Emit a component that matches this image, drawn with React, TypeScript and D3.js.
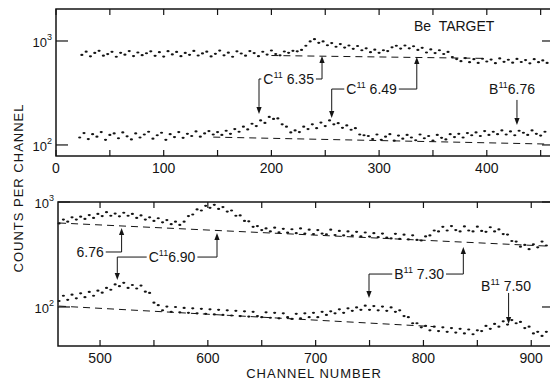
import React from "react";
import * as d3 from "d3";

// ---------------- DATA ----------------
const STEP = 4;

// Top panel (channels 0–460), upper spectrum
const topUpperStart = 24;
const topUpperCounts = [
  735, 790, 712, 768, 805, 722, 748, 786, 705, 770, 738, 800, 716, 775, 730, 762, 795, 720, 780, 708,
  798, 742, 785, 715, 768, 736, 802, 725, 760, 790, 710, 752, 808, 728, 772, 705, 795, 758, 722, 800,
  765, 715, 788, 740, 810, 750, 728, 792, 770, 805, 795,
  820, 900, 990, 1040, 960, 990, 910, 955, 880, 935, 865, 905, 840, 895, 815, 850, 780, 825, 770, 815,
  800, 870, 900, 845, 905, 850, 890, 820, 860, 775, 830, 765, 815, 750, 785, 700, 670,
  640, 685, 625, 668, 615, 675, 635, 662, 612, 680, 630, 660, 618, 672, 628, 655, 610, 668, 625, 650, 615,
];

// Top panel, lower spectrum
const topLowerStart = 22;
const topLowerCounts = [
  118, 130, 114, 127, 120, 133, 112, 125, 129, 116, 132, 121, 113, 129, 118, 126, 134, 115, 124, 131,
  112, 127, 119, 133, 117, 128, 122, 135, 120, 129, 136, 126, 133,
  125, 137, 128, 142, 134, 150, 141, 160, 152, 172, 163, 186, 178, 180, 158, 150, 132, 138, 133, 150,
  142, 158, 145, 164, 152, 172, 158, 162, 146, 154, 140, 145, 126, 124,
  122, 114, 126, 112, 120, 127, 110, 123, 115, 125, 118, 111, 126, 116, 122, 110, 125, 117, 113, 127,
  119, 128, 118, 130, 124, 132, 122, 136, 125, 134, 127, 138, 126, 135, 124, 137, 131, 125, 138, 128,
  123, 134,
];

// Bottom panel (channels 460–920), upper spectrum
const botUpperStart = 462;
const botUpperCounts = [
  625, 680, 650, 715, 680, 725, 690, 750, 705, 770, 735, 800, 740, 775, 730, 790, 740, 770, 705, 745,
  680, 715, 660, 700, 640, 672, 615, 650, 605,
  650, 735, 760, 850, 830, 920, 880, 940, 860, 895, 810, 830, 740, 745, 660, 655, 580, 590, 540,
  560, 525, 570, 515, 555, 510, 550, 505, 560, 500, 545, 495, 540, 500, 492, 545, 485, 530, 480, 525,
  478, 520, 470, 512, 468, 505, 462, 500, 458, 450, 498, 445, 488, 440, 482, 435, 430, 470,
  480, 535, 525, 580, 535, 590, 540, 525, 585, 535, 525, 582, 530, 520, 575, 525, 548, 495, 490, 425,
  420, 375, 390, 355, 395, 370, 420, 385,
];

// Bottom panel, lower spectrum
const botLowerStart = 462;
const botLowerCounts = [
  114, 128, 117, 131, 121, 135, 124, 139, 128, 143, 137, 152, 146, 164, 158, 170, 152, 162, 150, 160,
  140, 136, 110, 104,
  93, 101, 90, 100, 89, 98, 88, 97, 87, 96, 86, 95, 85, 94, 84, 93, 83, 92, 82, 91,
  81, 90, 82, 80, 89, 79, 88, 78, 87, 80, 77, 86, 78, 87, 80, 88, 80,
  90, 84, 91, 87, 95, 88, 97, 92, 99, 94, 103, 94, 102, 93, 101, 92, 99, 90, 93, 82, 80, 70, 70, 64, 66,
  60, 65, 59, 64, 58, 63, 57, 62, 56, 61, 55, 60, 59, 66, 62, 69, 65, 73, 68, 75, 70, 72, 63, 65,
  56, 58, 53, 58,
];

// Dashed background lines [channel, counts]
const topUpperBaseline: [number, number][] = [[200, 725], [400, 680]];
const topLowerBaseline: [number, number][] = [[146, 119], [456, 102]];
const botUpperBaseline: [number, number][] = [[462, 631], [915, 380]];
const botLowerBaseline: [number, number][] = [[462, 102], [810, 65]];

// Axis ticks
const topTickLabels = [0, 100, 200, 300, 400];
const topMinorTicks = [50, 150, 250, 350, 450];
const botTickLabels = [500, 600, 700, 800, 900];
const botMinorTicks = [550, 650, 750, 850];
const yDecades = [100, 1000];

// Annotations (channel / counts)
type Bracket = {
  pre: string; sup: string; post: string;
  textAt: number; row: number;
  left?: number; leftTo?: number;
  right: number; rightTo: number;
};
const topBrackets: Bracket[] = [
  { pre: "C", sup: "11", post: " 6.35", textAt: 216, row: 431, left: 188.5, leftTo: 199, right: 247, rightTo: 717 },
  { pre: "C", sup: "11", post: " 6.49", textAt: 293, row: 345, left: 256, leftTo: 182, right: 335, rightTo: 701 },
];
const botBrackets: Bracket[] = [
  { pre: "", sup: "", post: "6.76", textAt: 490.8, row: 334, right: 520, rightTo: 565 },
  { pre: "C", sup: "11", post: "6.90", textAt: 566.8, row: 299, left: 516, leftTo: 181, right: 608.5, rightTo: 507 },
  { pre: "B", sup: "11", post: " 7.30", textAt: 796, row: 206, left: 749.5, leftTo: 122, right: 837, rightTo: 373 },
];
type Pointer = { pre: string; sup: string; post: string; textAt: number; row: number; at: number; from: number; to: number };
const topPointers: Pointer[] = [{ pre: "B", sup: "11", post: "6.76", textAt: 423.4, row: 345, at: 428, from: 271, to: 156 }];
const botPointers: Pointer[] = [{ pre: "B", sup: "11", post: " 7.50", textAt: 876.6, row: 158, at: 879, from: 136, to: 69 }];

// ---------------- LAYOUT ----------------
const FONT = "'Liberation Sans', Arial, Helvetica, sans-serif";
const INK = "#141414";
const FRAME_RIGHT = 554;

const topPanel = {
  x: d3.scaleLinear().domain([0, 470]).range([56, 56 + 470 * 1.077]),
  y: d3.scaleLog().domain([78.3, 2031]).range([156, 9]),
  left: 56, top: 9, bottom: 156,
  labels: topTickLabels, minor: topMinorTicks,
  series: [
    { start: topUpperStart, counts: topUpperCounts },
    { start: topLowerStart, counts: topLowerCounts },
  ],
  baselines: [topUpperBaseline, topLowerBaseline],
  brackets: topBrackets, pointers: topPointers,
};
const botPanel = {
  x: d3.scaleLinear().domain([461, 925]).range([58, 58 + 464 * 1.078]),
  y: d3.scaleLog().domain([42.5, 1000]).range([346, 202]),
  left: 58, top: 202, bottom: 346,
  labels: botTickLabels, minor: botMinorTicks,
  series: [
    { start: botUpperStart, counts: botUpperCounts },
    { start: botLowerStart, counts: botLowerCounts },
  ],
  baselines: [botUpperBaseline, botLowerBaseline],
  brackets: botBrackets, pointers: botPointers,
};

let ctx: CanvasRenderingContext2D | null = null;
function measure(s: string, size: number) {
  if (!ctx) ctx = document.createElement("canvas").getContext("2d");
  if (!ctx) return s.length * size * 0.55;
  ctx.font = `${size}px 'Liberation Sans'`;
  return ctx.measureText(s).width;
}

const LBL = 14;
const SUP = 9;
function labelWidth(pre: string, sup: string, post: string) {
  return measure(pre, LBL) + (sup ? measure(sup, SUP) : 0) + measure(post, LBL);
}

function Label({ x, y, pre, sup, post }: { x: number; y: number; pre: string; sup: string; post: string }) {
  return (
    <text x={x} y={y + 5} fontSize={LBL} fill={INK} style={{ whiteSpace: "pre" }}>
      {pre ? <tspan>{pre}</tspan> : null}
      {sup ? <tspan fontSize={SUP} dy={-6}>{sup}</tspan> : null}
      <tspan dy={sup ? 6 : 0}>{post}</tspan>
    </text>
  );
}

function Arrow({ x, y1, y2 }: { x: number; y1: number; y2: number }) {
  const dir = y2 > y1 ? 1 : -1;
  const head = 7;
  return (
    <g>
      <line x1={x} x2={x} y1={y1} y2={y2 - dir * head} stroke={INK} strokeWidth={1} />
      <path d={`M${x},${y2} L${x - 2.6},${y2 - dir * head} L${x + 2.6},${y2 - dir * head} Z`} fill={INK} />
    </g>
  );
}

function Panel({ p }: { p: typeof topPanel }) {
  const { x, y } = p;
  const line = d3.line<[number, number]>().x((d) => x(d[0])).y((d) => y(d[1]));
  const tickLen = 6;
  return (
    <g>
      <rect x={p.left} y={p.top} width={FRAME_RIGHT - p.left} height={p.bottom - p.top} fill="none" stroke={INK} strokeWidth={1.5} />
      {[...p.labels, ...p.minor].map((t) => (
        <g key={"t" + t}>
          <line x1={x(t)} x2={x(t)} y1={p.bottom} y2={p.bottom - tickLen} stroke={INK} strokeWidth={1.2} />
          <line x1={x(t)} x2={x(t)} y1={p.top} y2={p.top + tickLen} stroke={INK} strokeWidth={1.2} />
        </g>
      ))}
      {p.labels.map((t) => (
        <text key={"l" + t} x={x(t)} y={p.bottom + 17} fontSize={14} textAnchor="middle" fill={INK}>
          {t}
        </text>
      ))}
      {yDecades.map((v) => (
        <g key={"y" + v}>
          <line x1={p.left} x2={p.left + 12} y1={y(v)} y2={y(v)} stroke={INK} strokeWidth={1.2} />
          <line x1={FRAME_RIGHT - 12} x2={FRAME_RIGHT} y1={y(v)} y2={y(v)} stroke={INK} strokeWidth={1.2} />
          <text x={p.left - 4} y={y(v) + 6} fontSize={13} textAnchor="end" fill={INK}>
            <tspan>10</tspan>
            <tspan fontSize={9} dy={-7}>{Math.round(Math.log10(v))}</tspan>
          </text>
        </g>
      ))}
      {p.baselines.map((b, i) => (
        <path key={"b" + i} d={line(b) || ""} fill="none" stroke={INK} strokeWidth={1} strokeDasharray="7,5" />
      ))}
      {p.series.map((s, si) => (
        <g key={"s" + si} fill={INK}>
          {s.counts.map((c, i) => {
            const ch = s.start + i * STEP;
            return <ellipse key={i} cx={x(ch)} cy={y(c)} rx={1.6} ry={1.1} />;
          })}
        </g>
      ))}
      {p.brackets.map((b, i) => {
        const w = labelWidth(b.pre, b.sup, b.post);
        const cx = x(b.textAt);
        const tx0 = cx - w / 2;
        const tx1 = cx + w / 2;
        const ry = y(b.row);
        return (
          <g key={"br" + i}>
            {b.left !== undefined && b.leftTo !== undefined ? (
              <>
                <line x1={x(b.left)} x2={tx0 - 2} y1={ry} y2={ry} stroke={INK} strokeWidth={1} />
                <Arrow x={x(b.left)} y1={ry} y2={y(b.leftTo)} />
              </>
            ) : null}
            <line x1={tx1 + 2} x2={x(b.right)} y1={ry} y2={ry} stroke={INK} strokeWidth={1} />
            <Arrow x={x(b.right)} y1={ry} y2={y(b.rightTo)} />
            <Label x={tx0} y={ry} pre={b.pre} sup={b.sup} post={b.post} />
          </g>
        );
      })}
      {p.pointers.map((q, i) => {
        const w = labelWidth(q.pre, q.sup, q.post);
        return (
          <g key={"pt" + i}>
            <Label x={x(q.textAt) - w / 2} y={y(q.row)} pre={q.pre} sup={q.sup} post={q.post} />
            <Arrow x={x(q.at)} y1={y(q.from)} y2={y(q.to)} />
          </g>
        );
      })}
    </g>
  );
}

export default function App() {
  return (
    <svg
      width={550}
      height={381}
      style={{ position: "absolute", left: 0, top: 0, background: "#fff" }}
      fontFamily={FONT}
    >
      <rect x={0} y={0} width={550} height={381} fill="#fff" />
      <Panel p={topPanel} />
      <Panel p={botPanel} />
      <text x={topPanel.x(332.4)} y={topPanel.y(1394) + 5} fontSize={14} fill={INK} style={{ whiteSpace: "pre" }}>
        Be  TARGET
      </text>
      <text
        transform="translate(23,188) rotate(-90)"
        textAnchor="middle"
        fontSize={13}
        letterSpacing={1}
        fill={INK}
      >
        COUNTS PER CHANNEL
      </text>
      <text x={314} y={378} textAnchor="middle" fontSize={13} letterSpacing={1} fill={INK}>
        CHANNEL NUMBER
      </text>
    </svg>
  );
}
